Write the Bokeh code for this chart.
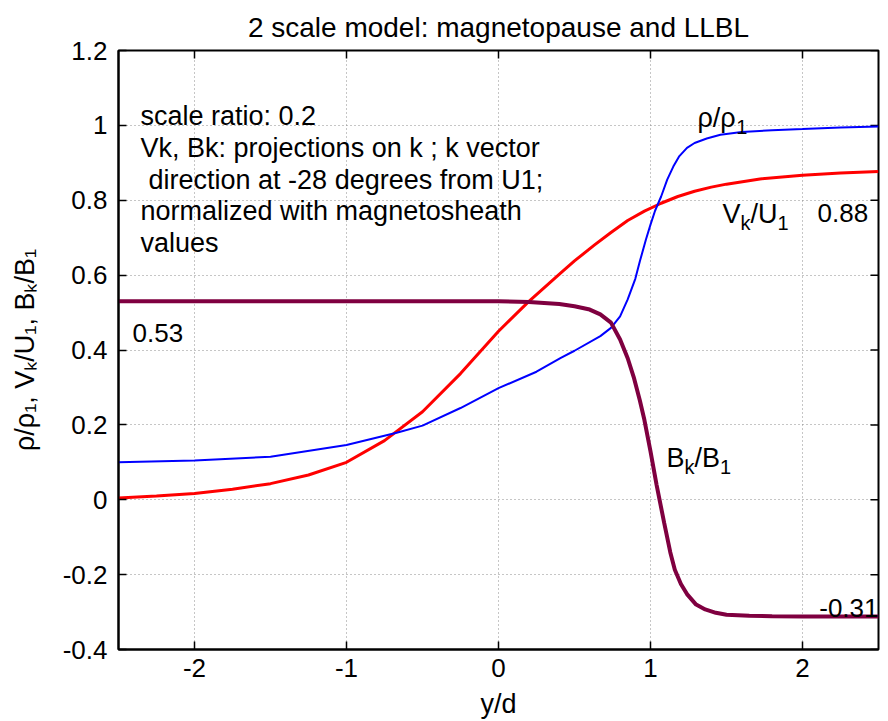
import math
from bokeh.plotting import figure
from bokeh.models import FixedTicker, Label, Range1d
from bokeh.embed import file_html
from bokeh.resources import INLINE

# ---------------- data ----------------
x_rho = [-2.5, -2.0, -1.5, -1.0, -0.67, -0.5, -0.25, 0.0, 0.25, 0.41, 0.5, 0.67, 0.74,
         0.8, 0.85, 0.9, 0.93, 0.97, 1.0, 1.03, 1.07, 1.11, 1.15, 1.19, 1.24, 1.29,
         1.37, 1.46, 1.6, 1.8, 2.0, 2.25, 2.5]
rho = [0.100, 0.105, 0.115, 0.146, 0.179, 0.198, 0.245, 0.298, 0.342, 0.379, 0.398,
       0.437, 0.459, 0.490, 0.535, 0.590, 0.637, 0.695, 0.735, 0.772, 0.810, 0.855,
       0.890, 0.918, 0.940, 0.953, 0.965, 0.975, 0.982, 0.987, 0.990, 0.994, 0.997]

x_v = [-2.5, -2.25, -2.0, -1.75, -1.5, -1.25, -1.0, -0.75, -0.5, -0.25, 0.0, 0.2,
       0.41, 0.5, 0.63, 0.74, 0.85, 0.96, 1.07, 1.18, 1.29, 1.4, 1.5, 1.72, 2.0,
       2.25, 2.5]
v = [0.005, 0.010, 0.017, 0.028, 0.043, 0.066, 0.100, 0.158, 0.235, 0.337, 0.450,
     0.530, 0.606, 0.638, 0.680, 0.714, 0.746, 0.771, 0.792, 0.810, 0.824, 0.835,
     0.843, 0.857, 0.867, 0.873, 0.877]

x_b = [-2.5, -1.5, -0.5, 0.0, 0.2, 0.4, 0.5, 0.6, 0.67, 0.74, 0.8, 0.85, 0.89, 0.93,
       0.96, 1.0, 1.04, 1.09, 1.13, 1.16, 1.2, 1.24, 1.3, 1.36, 1.43, 1.5, 1.65, 1.8,
       2.0, 2.5]
b = [0.530, 0.530, 0.530, 0.530, 0.528, 0.523, 0.517, 0.508, 0.495, 0.473, 0.428,
     0.378, 0.327, 0.265, 0.213, 0.129, 0.040, -0.062, -0.140, -0.187, -0.225, -0.252,
     -0.280, -0.293, -0.302, -0.307, -0.310, -0.311, -0.312, -0.312]

x_ticks = [-2, -1, 0, 1, 2]
x_tick_labels = ["-2", "-1", "0", "1", "2"]
y_ticks = [-0.4, -0.2, 0.0, 0.2, 0.4, 0.6, 0.8, 1.0, 1.2]
y_tick_labels = ["-0.4", "-0.2", "0", "0.2", "0.4", "0.6", "0.8", "1", "1.2"]

title_text = "2 scale model: magnetopause and LLBL"
x_label = "y/d"
y_label = "ρ/ρ₁, Vₖ/U₁, Bₖ/B₁"
note_lines = ["scale ratio: 0.2",
              "Vk, Bk: projections on k ; k vector",
              "direction at -28 degrees from U1;",
              "normalized with magnetosheath",
              "values"]
value_labels = ["0.88", "0.53", "-0.31"]

# ---------------- styling ----------------
FONT = "Liberation Sans"
BLUE = "#0000FF"
RED = "#FF0000"
MAROON = "#7F0040"

X0, X1 = -2.5, 2.5
Y0, Y1 = -0.4, 1.2

p = figure(width=888, height=721, x_range=Range1d(X0, X1), y_range=Range1d(Y0, Y1),
           output_backend="svg", toolbar_location=None,
           min_border_left=118, min_border_right=10, min_border_top=50,
           min_border_bottom=72, title=title_text)
p.title.text_font = FONT
p.title.text_font_size = "28px"
p.title.text_font_style = "normal"
p.title.align = "center"
p.title.offset = -12
p.title.standoff = 16
p.title.text_color = "black"

p.background_fill_color = "white"
p.border_fill_color = "white"
p.outline_line_color = "black"
p.outline_line_width = 2

xt = FixedTicker(ticks=x_ticks)
yt = FixedTicker(ticks=y_ticks)

for ax, tk, labels in ((p.xaxis[0], xt, x_tick_labels), (p.yaxis[0], yt, y_tick_labels)):
    ax.ticker = tk
    ax.major_label_overrides = {t: s for t, s in zip(tk.ticks, labels)}
    ax.axis_line_color = "black"
    ax.axis_line_width = 2
    ax.major_tick_in = 8
    ax.major_tick_out = 0
    ax.major_tick_line_color = "black"
    ax.major_tick_line_width = 1.5
    ax.minor_tick_line_color = None
    ax.major_label_text_font = FONT
    ax.major_label_text_font_size = "26px"
    ax.major_label_text_color = "black"
    ax.axis_label_text_font = FONT
    ax.axis_label_text_font_size = "27px"
    ax.axis_label_text_font_style = "normal"
    ax.axis_label_text_color = "black"

p.xaxis[0].major_label_standoff = 9
p.yaxis[0].major_label_standoff = 11
p.xaxis[0].axis_label = x_label
p.xaxis[0].axis_label_standoff = 9
p.yaxis[0].axis_label = y_label
p.yaxis[0].axis_label_standoff = 20

for g in (p.xgrid[0], p.ygrid[0]):
    g.grid_line_color = "#8c8c8c"
    g.grid_line_dash = "1 3"
    g.grid_line_width = 1
p.xgrid[0].ticker = xt
p.ygrid[0].ticker = yt

# inward ticks on the top and right edges of the box
p.ray(x=x_ticks, y=[Y1] * len(x_ticks), length=8, length_units="screen",
      angle=-math.pi / 2, line_color="black", line_width=1.5)
p.ray(x=[X1] * len(y_ticks), y=y_ticks, length=8, length_units="screen",
      angle=math.pi, line_color="black", line_width=1.5)

# ---------------- curves ----------------
p.line(x_v, v, line_color=RED, line_width=3)
p.line(x_rho, rho, line_color=BLUE, line_width=2)
p.line(x_b, b, line_color=MAROON, line_width=4)

# ---------------- texts ----------------
WIDTHS = {"ρ": 578, "/": 278, ",": 278, " ": 278, "V": 667, "U": 722, "B": 667,
          "k": 500, "1": 556}

def tw(s, size):
    return sum(WIDTHS.get(c, 556) for c in s) * size / 1000.0

def rich(x, y, pieces, size=27, sub_size=20, drop=9):
    off = 0.0
    for txt, sub in pieces:
        fs = sub_size if sub else size
        lab = Label(x=x, y=y, x_offset=off, y_offset=(-drop if sub else 0), text=txt,
                    text_align="left", text_baseline="alphabetic",
                    text_font=FONT, text_font_size=f"{fs}px", text_color="black")
        p.add_layout(lab)
        off += tw(txt, fs)

rich(1.309, 1.019, [("ρ/ρ", False), ("1", True)])
rich(1.474, 0.763, [("V", False), ("k", True), ("/U", False), ("1", True)])
rich(1.105, 0.112, [("B", False), ("k", True), ("/B", False), ("1", True)])

for txt, (lx, ly) in zip(value_labels, [(2.099, 0.765), (-2.408, 0.446), (2.11, -0.29)]):
    p.add_layout(Label(x=lx, y=ly, text=txt, text_align="left", text_baseline="alphabetic",
                       text_font=FONT, text_font_size="26px", text_color="black"))

for i, line in enumerate(note_lines):
    p.add_layout(Label(x=-2.355, y=1.024, x_offset=(8 if i == 2 else 0), y_offset=-31.7 * i,
                       text=line, text_align="left", text_baseline="alphabetic",
                       text_font=FONT, text_font_size="27px", text_color="black"))

open("out.html", "w").write(file_html(p, INLINE))
